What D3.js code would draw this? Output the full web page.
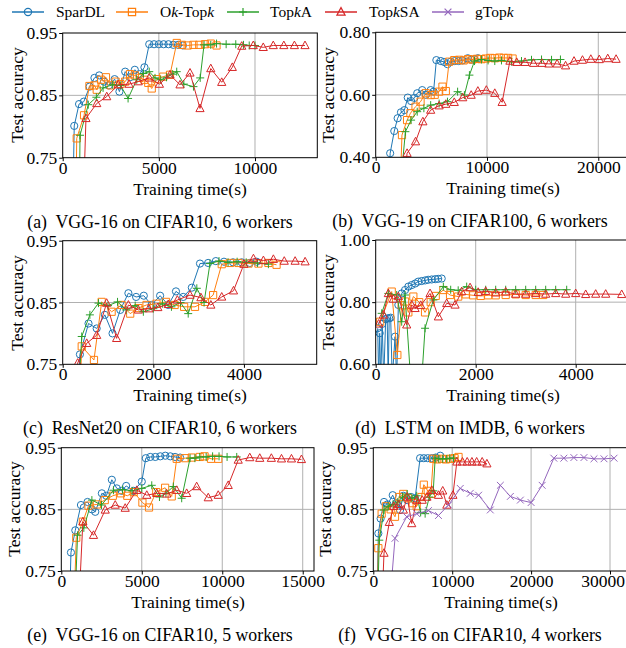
<!DOCTYPE html>
<html>
<head>
<meta charset="utf-8">
<script src="https://cdn.jsdelivr.net/npm/d3@7"></script>
<style>
  html, body { margin: 0; padding: 0; background: #fff; }
  svg { display: block; }
</style>
</head>
<body>
<svg id="chart" width="626" height="648" font-family="Liberation Serif"></svg>
<script>
// ---------------- DATA ----------------
const seriesNames = ["SparDL", "Ok-Topk", "TopkA", "TopkSA", "gTopk"];
const seriesColors = ["#1f77b4", "#ff7f0e", "#2ca02c", "#d62728", "#9467bd"];
const captions = [
  "(a)  VGG-16 on CIFAR10, 6 workers",
  "(b)  VGG-19 on CIFAR100, 6 workers",
  "(c)  ResNet20 on CIFAR10, 6 workers",
  "(d)  LSTM on IMDB, 6 workers",
  "(e)  VGG-16 on CIFAR10, 5 workers",
  "(f)  VGG-16 on CIFAR10, 4 workers"
];
const xTicksA = [0, 5000, 10000];
const xTicksB = [0, 10000, 20000];
const xTicksC = [0, 2000, 4000];
const xTicksD = [0, 2000, 4000];
const xTicksE = [0, 5000, 10000, 15000];
const xTicksF = [0, 10000, 20000, 30000];
const yTicksA = [0.75, 0.85, 0.95];
const yTicksB = [0.40, 0.60, 0.80];
const yTicksC = [0.75, 0.85, 0.95];
const yTicksD = [0.60, 0.80, 1.00];
const yTicksE = [0.75, 0.85, 0.95];
const yTicksF = [0.75, 0.85, 0.95];

// (a) VGG-16 on CIFAR10, 6 workers
const aSparDL = [[480,0.60],[600,0.801],[850,0.836],[1100,0.840],[1400,0.864],[1650,0.878],[1900,0.882],[2150,0.872],[2400,0.866],[2700,0.876],[2950,0.856],[3250,0.888],[3500,0.879],[3750,0.891],[4000,0.884],[4250,0.895],[4500,0.932],[4750,0.932],[5000,0.932],[5250,0.932],[5500,0.932],[5750,0.931],[6000,0.931],[6250,0.930]];
const aOkTopk = [[650,0.60],[730,0.781],[1110,0.818],[1390,0.865],[1650,0.866],[1770,0.859],[2000,0.875],[2250,0.879],[2500,0.866],[2750,0.872],[3000,0.868],[3250,0.872],[3500,0.884],[3750,0.882],[4000,0.878],[4250,0.875],[4450,0.870],[4630,0.861],[4900,0.876],[5230,0.880],[5580,0.883],[5930,0.934],[6200,0.931],[6500,0.930],[6800,0.931],[7100,0.931],[7400,0.932],[7700,0.933],[8000,0.930]];
const aTopkA = [[850,0.60],[900,0.786],[1330,0.835],[1750,0.847],[2100,0.862],[2600,0.867],[3000,0.866],[3400,0.845],[3850,0.875],[4200,0.885],[4500,0.888],[4800,0.878],[5100,0.875],[5400,0.879],[5700,0.884],[5930,0.888],[6300,0.868],[6800,0.864],[7150,0.878],[7350,0.931],[7700,0.931],[8000,0.933],[8500,0.932],[9000,0.932],[9400,0.931],[9700,0.930],[10000,0.930]];
const aTopkSA = [[1000,0.60],[1210,0.813],[1770,0.837],[2290,0.848],[2890,0.867],[3450,0.868],[3930,0.872],[4500,0.878],[5030,0.868],[5580,0.883],[6100,0.867],[6620,0.886],[7140,0.829],[7700,0.893],[8270,0.871],[8820,0.895],[9310,0.929],[9910,0.930],[10430,0.927],[10950,0.930],[11500,0.930],[12050,0.930],[12600,0.930]];

// (b) VGG-19 on CIFAR100, 6 workers
const bSparDL = [[1200,0.30],[1300,0.413],[1670,0.484],[1970,0.525],[2270,0.544],[2580,0.551],[2880,0.591],[3180,0.580],[3480,0.590],[3730,0.605],[4180,0.615],[4500,0.600],[4940,0.615],[5200,0.610],[5450,0.711],[5850,0.708],[6150,0.705],[6450,0.698],[6750,0.706],[7100,0.708],[7450,0.708],[7800,0.710],[8270,0.717],[8600,0.712],[8880,0.714],[9180,0.717]];
const bOkTopk = [[2200,0.30],[2360,0.471],[2820,0.519],[3120,0.541],[3580,0.562],[4030,0.578],[4490,0.605],[4940,0.599],[5300,0.600],[5700,0.610],[6000,0.626],[6300,0.612],[6600,0.706],[7060,0.711],[7500,0.712],[7900,0.710],[8300,0.714],[8700,0.713],[9100,0.715],[9500,0.714],[9900,0.716],[10300,0.718],[10700,0.717],[11100,0.719],[11500,0.718],[11900,0.718],[12300,0.716]];
const bTopkA = [[2200,0.30],[2670,0.482],[3180,0.519],[3730,0.546],[4330,0.557],[4940,0.567],[5700,0.572],[6450,0.578],[7360,0.610],[7970,0.599],[8420,0.663],[8880,0.708],[9500,0.713],[10100,0.710],[10700,0.708],[11300,0.710],[12200,0.706],[13100,0.708],[14000,0.712],[14900,0.713],[15800,0.712],[16600,0.713]];
const bTopkSA = [[2500,0.30],[2820,0.413],[3580,0.450],[4240,0.514],[4940,0.551],[5700,0.565],[6300,0.570],[7060,0.576],[7820,0.591],[8580,0.599],[9180,0.612],[9940,0.615],[10700,0.605],[11360,0.576],[12060,0.708],[12670,0.704],[13420,0.704],[14180,0.701],[14940,0.701],[15550,0.699],[16300,0.699],[17060,0.693],[17820,0.708],[18580,0.711],[19330,0.714],[20090,0.713],[20850,0.716],[21600,0.714]];

// (c) ResNet20 on CIFAR10, 6 workers
const cSparDL = [[330,0.70],[380,0.766],[570,0.816],[750,0.808],[930,0.830],[1100,0.800],[1270,0.838],[1450,0.865],[1620,0.859],[1790,0.861],[1960,0.846],[2150,0.861],[2330,0.846],[2500,0.868],[2660,0.859],[2850,0.874],[3030,0.913],[3210,0.914],[3380,0.917],[3560,0.916],[3760,0.915],[3950,0.915],[4130,0.914],[4280,0.916]];
const cOkTopk = [[380,0.70],[420,0.779],[690,0.757],[860,0.851],[1080,0.835],[1300,0.846],[1490,0.832],[1670,0.841],[1850,0.846],[2070,0.848],[2280,0.851],[2470,0.846],[2680,0.843],[2920,0.843],[3140,0.851],[3320,0.862],[3510,0.912],[3690,0.914],[3880,0.914],[4100,0.913],[4320,0.913],[4540,0.914],[4720,0.911]];
const cTopkA = [[350,0.70],[420,0.795],[600,0.830],[790,0.849],[1000,0.845],[1210,0.851],[1400,0.838],[1600,0.845],[1780,0.835],[2000,0.840],[2200,0.848],[2400,0.843],[2600,0.850],[2770,0.832],[2960,0.873],[3120,0.850],[3250,0.913],[3450,0.917],[3650,0.915],[3850,0.916],[4050,0.915],[4300,0.914],[4540,0.912]];
const cTopkSA = [[300,0.70],[330,0.752],[530,0.784],[750,0.797],[970,0.849],[1190,0.792],[1450,0.846],[1670,0.838],[1900,0.840],[2100,0.842],[2330,0.847],[2530,0.854],[2810,0.862],[3050,0.858],[3270,0.846],[3510,0.859],[3770,0.869],[4000,0.912],[4210,0.921],[4430,0.918],[4650,0.920],[4890,0.917],[5130,0.917],[5350,0.916]];

// (d) LSTM on IMDB, 6 workers
const dSparDL = [[40,0.716],[60,0.55],[80,0.700],[100,0.55],[130,0.730],[160,0.55],[200,0.745],[230,0.748],[250,0.55],[270,0.748],[300,0.750],[330,0.55],[387,0.689],[420,0.55],[453,0.791],[520,0.828],[587,0.839],[653,0.850],[720,0.855],[790,0.860],[850,0.866],[920,0.868],[990,0.870],[1050,0.872],[1120,0.873],[1190,0.874],[1250,0.875],[1320,0.876]];
const dOkTopk = [[90,0.737],[320,0.834],[433,0.630],[520,0.790],[587,0.802],[653,0.767],[753,0.818],[870,0.800],[987,0.767],[1100,0.800],[1200,0.820],[1353,0.839],[1487,0.823],[1650,0.818],[1800,0.825],[1950,0.822],[2100,0.820],[2250,0.822],[2400,0.822],[2600,0.823],[2800,0.825],[3000,0.823],[3200,0.823],[3350,0.823]];
const dTopkA = [[120,0.764],[253,0.828],[420,0.823],[520,0.737],[587,0.823],[720,0.50],[900,0.50],[987,0.716],[1153,0.807],[1353,0.850],[1500,0.840],[1650,0.838],[1820,0.850],[2000,0.840],[2200,0.840],[2400,0.840],[2600,0.840],[2800,0.840],[3000,0.840],[3200,0.840],[3400,0.840],[3600,0.840],[3820,0.840]];
const dTopkSA = [[60,0.730],[153,0.759],[253,0.828],[353,0.810],[453,0.818],[620,0.727],[720,0.791],[787,0.780],[900,0.790],[1087,0.828],[1253,0.753],[1420,0.796],[1587,0.791],[1720,0.834],[1887,0.847],[2050,0.832],[2200,0.835],[2400,0.830],[2600,0.833],[2800,0.826],[3000,0.826],[3200,0.828],[3400,0.826],[3600,0.828],[3800,0.826],[4000,0.828],[4200,0.825],[4400,0.826],[4600,0.826],[4920,0.825]];

// (e) VGG-16 on CIFAR10, 5 workers
const eSparDL = [[520,0.70],[600,0.780],[870,0.816],[1220,0.857],[1630,0.862],[1900,0.850],[2110,0.846],[2520,0.876],[2800,0.872],[3140,0.898],[3450,0.884],[3750,0.880],[4030,0.888],[4500,0.880],[5000,0.895],[5250,0.933],[5530,0.935],[5840,0.935],[6150,0.936],[6460,0.937],[6770,0.936],[7070,0.935],[7380,0.934]];
const eOkTopk = [[800,0.70],[930,0.804],[1340,0.830],[1690,0.856],[2210,0.858],[2700,0.865],[3200,0.872],[3700,0.876],[4100,0.872],[4500,0.878],[5040,0.861],[5450,0.853],[5900,0.878],[6450,0.885],[6860,0.871],[7170,0.932],[7700,0.933],[8100,0.934],[8600,0.935],[8900,0.936],[9300,0.932],[9750,0.932]];
const eTopkA = [[850,0.70],[1010,0.808],[1400,0.820],[1900,0.865],[2500,0.857],[3240,0.881],[3800,0.882],[4400,0.880],[5000,0.884],[5620,0.889],[6100,0.870],[6500,0.876],[6960,0.887],[7480,0.868],[8000,0.933],[8300,0.933],[8600,0.935],[9000,0.935],[9400,0.936],[9800,0.936],[10300,0.935],[10900,0.935]];
const eTopkSA = [[1100,0.70],[1340,0.830],[2000,0.808],[2730,0.849],[3350,0.857],[3970,0.852],[4690,0.881],[5310,0.873],[5930,0.876],[6550,0.875],[7170,0.881],[7790,0.876],[8410,0.887],[9130,0.869],[9750,0.873],[10370,0.889],[10990,0.930],[11710,0.934],[12330,0.933],[13050,0.933],[13680,0.932],[14300,0.932],[14920,0.931]];

// (f) VGG-16 on CIFAR10, 4 workers
const fSparDL = [[450,0.70],[640,0.811],[930,0.835],[1360,0.862],[1800,0.858],[2460,0.873],[2900,0.860],[3390,0.849],[3800,0.872],[4300,0.865],[4800,0.870],[5300,0.868],[5930,0.933],[6400,0.933],[6900,0.933],[7400,0.933],[7900,0.934],[8480,0.937]];
const fOkTopk = [[500,0.70],[640,0.787],[1060,0.843],[1600,0.855],[2200,0.850],[2750,0.838],[3300,0.870],[3800,0.875],[4400,0.868],[5000,0.860],[5500,0.855],[6100,0.870],[6400,0.890],[6900,0.880],[7300,0.875],[7600,0.932],[8100,0.931],[8700,0.932],[9200,0.931],[9800,0.932],[10300,0.933],[10800,0.935]];
const fTopkA = [[550,0.70],[760,0.800],[1360,0.849],[1900,0.855],[2500,0.858],[3100,0.862],[3700,0.870],[4300,0.875],[4900,0.868],[5500,0.872],[6000,0.845],[6570,0.843],[7100,0.870],[7600,0.880],[7840,0.933],[8300,0.932],[8800,0.932],[9300,0.932],[9700,0.933],[10170,0.933]];
const fTopkSA = [[1100,0.70],[1360,0.779],[2030,0.829],[2600,0.855],[3200,0.858],[3810,0.849],[4300,0.870],[4870,0.827],[5500,0.865],[6200,0.865],[6800,0.870],[7420,0.881],[8260,0.873],[8800,0.880],[9320,0.857],[10090,0.873],[10590,0.927],[11300,0.927],[11900,0.927],[12500,0.927],[13100,0.927],[13800,0.927],[14400,0.924]];
const fGTopk = [[2100,0.70],[2750,0.803],[4240,0.838],[5510,0.843],[6990,0.848],[8260,0.840],[9530,0.857],[11020,0.884],[12290,0.876],[13350,0.873],[14830,0.849],[16100,0.889],[17370,0.871],[18640,0.865],[20000,0.861],[21400,0.889],[22880,0.933],[24150,0.933],[25420,0.934],[26700,0.934],[27970,0.932],[29240,0.932],[30510,0.933]];

// ---------------- LAYOUT ----------------
const FONT = "Liberation Serif";
const panels = [
  {id:"a", box:[62.7,317.3,33,157.7], xd:[0,13240], yd:[0.75,0.95], xt:xTicksA, yt:yTicksA, series:[aSparDL,aOkTopk,aTopkA,aTopkSA], col:0, row:0},
  {id:"b", box:[375.7,630,32.3,157.3], xd:[0,22850], yd:[0.40,0.80], xt:xTicksB, yt:yTicksB, series:[bSparDL,bOkTopk,bTopkA,bTopkSA], col:1, row:0},
  {id:"c", box:[62.7,316.7,240.7,364.3], xd:[0,5606], yd:[0.75,0.95], xt:xTicksC, yt:yTicksC, series:[cSparDL,cOkTopk,cTopkA,cTopkSA], col:0, row:1},
  {id:"d", box:[375.7,630,240,364.3], xd:[0,5086], yd:[0.60,1.00], xt:xTicksD, yt:yTicksD, series:[dSparDL,dOkTopk,dTopkA,dTopkSA], col:1, row:1},
  {id:"e", box:[61.3,314,447.7,571], xd:[0,15700], yd:[0.75,0.95], xt:xTicksE, yt:yTicksE, series:[eSparDL,eOkTopk,eTopkA,eTopkSA], col:0, row:2},
  {id:"f", box:[373.3,628,447.7,571], xd:[0,32280], yd:[0.75,0.95], xt:xTicksF, yt:yTicksF, series:[fSparDL,fOkTopk,fTopkA,fTopkSA,fGTopk], col:1, row:2}
];
const yLabelX = [[17,328],[17,328],[14,325]];
const captionX = [160, 470];

const svg = d3.select("#chart");
const defs = svg.append("defs");

function markerPath(k) {
  // k: 0 circle, 1 square, 2 plus, 3 triangle, 4 x
  if (k === 0) { const r = 3.6; return `M${-r},0a${r},${r} 0 1,0 ${2*r},0a${r},${r} 0 1,0 ${-2*r},0Z`; }
  if (k === 1) { const s = 3.6; return `M${-s},${-s}H${s}V${s}H${-s}Z`; }
  if (k === 2) { const s = 4.0; return `M${-s},0H${s}M0,${-s}V${s}`; }
  if (k === 3) { const s = 4.4; return `M0,${-s}L${s*0.93},${s*0.72}L${-s*0.93},${s*0.72}Z`; }
  const s = 3.4; return `M${-s},${-s}L${s},${s}M${-s},${s}L${s},${-s}`;
}

panels.forEach((p, pi) => {
  const [x0, x1, y0, y1] = p.box;
  const x = d3.scaleLinear().domain(p.xd).range([x0, x1]);
  const y = d3.scaleLinear().domain(p.yd).range([y1, y0]);
  const g = svg.append("g");

  const clipId = "clip-" + p.id;
  defs.append("clipPath").attr("id", clipId)
    .append("rect").attr("x", x0).attr("y", y0).attr("width", x1 - x0).attr("height", y1 - y0);

  // grid
  g.append("g").selectAll("line").data(p.xt.filter(t => t > p.xd[0] && t < p.xd[1]))
    .join("line").attr("x1", d => x(d)).attr("x2", d => x(d)).attr("y1", y0).attr("y2", y1)
    .attr("stroke", "#b0b0b0").attr("stroke-width", 1);
  g.append("g").selectAll("line").data(p.yt.filter(t => t > p.yd[0] + 1e-9 && t < p.yd[1] - 1e-9))
    .join("line").attr("y1", d => y(d)).attr("y2", d => y(d)).attr("x1", x0).attr("x2", x1)
    .attr("stroke", "#b0b0b0").attr("stroke-width", 1);

  // series
  const data = g.append("g").attr("clip-path", `url(#${clipId})`);
  const line = d3.line().x(d => x(d[0])).y(d => y(d[1]));
  p.series.forEach((s, si) => {
    data.append("path").attr("d", line(s)).attr("fill", "none")
      .attr("stroke", seriesColors[si]).attr("stroke-width", 1);
    data.append("g").selectAll("path").data(s).join("path")
      .attr("transform", d => `translate(${x(d[0])},${y(d[1])})`)
      .attr("d", markerPath(si)).attr("fill", "none")
      .attr("stroke", seriesColors[si]).attr("stroke-width", 1);
  });

  // axes
  const xa = d3.axisBottom(x).tickValues(p.xt).tickFormat(d3.format("d")).tickSize(3.5).tickPadding(0);
  const ya = d3.axisLeft(y).tickValues(p.yt).tickFormat(d3.format(".2f")).tickSize(3.5).tickPadding(2);
  const gx = g.append("g").attr("transform", `translate(0,${y1})`).call(xa);
  const gy = g.append("g").attr("transform", `translate(${x0},0)`).call(ya);
  [gx, gy].forEach(ax => {
    ax.attr("font-family", FONT).attr("font-size", 17.5);
    ax.select(".domain").remove();
    ax.selectAll("line").attr("stroke", "#000");
    ax.selectAll("text").attr("fill", "#000");
  });
  // keep tick labels inside the 626px picture
  gx.selectAll("text").each(function() {
    const w = this.getComputedTextLength();
    const tx = +d3.select(this.parentNode).attr("transform").match(/translate\(([-\d.]+)/)[1];
    const over = tx + w / 2 - 625;
    if (over > 0) d3.select(this).attr("x", -over);
  });
  // frame
  g.append("rect").attr("x", x0).attr("y", y0).attr("width", x1 - x0).attr("height", y1 - y0)
    .attr("fill", "none").attr("stroke", "#000").attr("stroke-width", 1);

  // axis titles
  g.append("text").attr("x", Math.round((x0 + x1) / 2)).attr("y", Math.round(y1 + 37)).attr("text-anchor", "middle")
    .attr("font-family", FONT).attr("font-size", 17.5).attr("font-weight", "normal").text("Training time(s)");
  const ylx = yLabelX[p.row][p.col];
  g.append("text").attr("transform", `translate(${ylx},${Math.round((y0 + y1) / 2)}) rotate(-90)`)
    .attr("text-anchor", "middle").attr("dy", "0.35em")
    .attr("font-family", FONT).attr("font-size", 17.5).attr("font-weight", "normal").text("Test accuracy");

  // caption
  g.append("text").attr("x", captionX[p.col]).attr("y", Math.round(y1 + 70)).attr("text-anchor", "middle")
    .attr("font-family", FONT).attr("font-size", 17.8).style("white-space", "pre").text(captions[pi]);
});

// legend
const legendPos = [[12, 56], [116, 160], [227, 270], [325, 369], [432, 475]];
const legendParts = [
  [["SparDL", false]],
  [["O", false], ["k", true], ["-Top", false], ["k", true]],
  [["Top", false], ["k", true], ["A", false]],
  [["Top", false], ["k", true], ["SA", false]],
  [["gTop", false], ["k", true]]
];
const lg = svg.append("g");
seriesNames.forEach((n, i) => {
  const [lx, tx] = legendPos[i];
  lg.append("line").attr("x1", lx).attr("x2", lx + 32).attr("y1", 12).attr("y2", 12)
    .attr("stroke", seriesColors[i]).attr("stroke-width", 1.5);
  lg.append("path").attr("transform", `translate(${lx + 16},12)`).attr("d", markerPath(i))
    .attr("fill", "none").attr("stroke", seriesColors[i]).attr("stroke-width", 1.2);
  const t = lg.append("text").attr("x", tx).attr("y", 17).attr("font-family", FONT).attr("font-size", 15.5);
  legendParts[i].forEach(([s, it]) => t.append("tspan").attr("font-style", it ? "italic" : "normal").text(s));
});
</script>
</body>
</html>
